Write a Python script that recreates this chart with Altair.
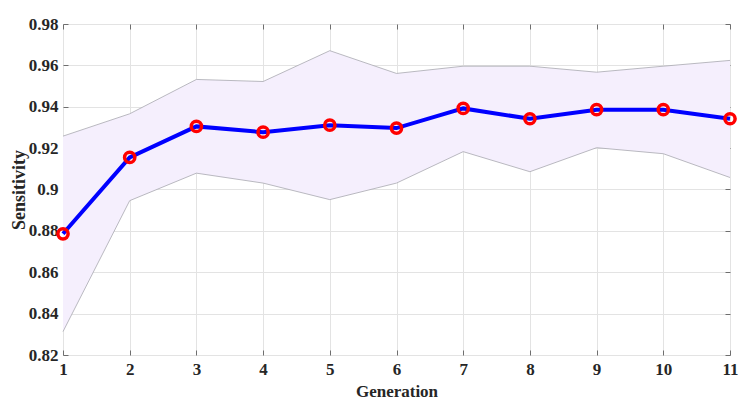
import altair as alt
import pandas as pd

generation = [1, 2, 3, 4, 5, 6, 7, 8, 9, 10, 11]
mean_sens = [0.8786, 0.9155, 0.9305, 0.9277, 0.9311, 0.9297, 0.9392, 0.9342, 0.9386, 0.9386, 0.9342]
upper_sens = [0.9258, 0.9366, 0.9532, 0.9522, 0.9671, 0.9561, 0.9596, 0.9596, 0.9567, 0.9596, 0.9624]
lower_sens = [0.8313, 0.8946, 0.9079, 0.9031, 0.8951, 0.9031, 0.9183, 0.9086, 0.9202, 0.9173, 0.9058]
x_ticks = [1, 2, 3, 4, 5, 6, 7, 8, 9, 10, 11]
y_ticks = [0.82, 0.84, 0.86, 0.88, 0.90, 0.92, 0.94, 0.96, 0.98]

df = pd.DataFrame({"gen": generation, "mean": mean_sens, "upper": upper_sens, "lower": lower_sens})

W, H = 667, 331
FONT = "Liberation Serif"
TXT = "#262626"

xs = alt.Scale(domain=[1, 11], nice=False, zero=False)
ys = alt.Scale(domain=[0.82, 0.98], nice=False, zero=False)

main_x = alt.Axis(values=x_ticks, title="Generation", grid=True, gridColor="#e3e3e3",
                  ticks=False, domain=False, labelFont=FONT, labelFontSize=17,
                  labelFontWeight="bold", labelColor=TXT, labelPadding=6,
                  titleFont=FONT, titleFontSize=17, titleFontWeight="bold",
                  titleColor=TXT, titlePadding=6, labelFlush=False)
main_y = alt.Axis(values=y_ticks, title="Sensitivity", grid=True, gridColor="#e3e3e3",
                  ticks=False, domain=False, labelFont=FONT, labelFontSize=17,
                  labelFontWeight="bold", labelColor=TXT, labelPadding=5,
                  titleFont=FONT, titleFontSize=18, titleFontWeight="bold",
                  titleColor=TXT, titlePadding=0, labelFlush=False,
                  labelExpr="format(datum.value, '.2~f')")

def tick_axis(vals, orient, offset):
    return alt.Axis(values=vals, orient=orient, offset=offset, labels=False, title=None,
                    grid=False, domain=False, ticks=True, tickSize=5, tickColor="#6e6e6e",
                    tickWidth=1)

band = alt.Chart(df).mark_area(color="#f5effd", opacity=1).encode(
    x=alt.X("gen:Q", scale=xs, axis=main_x),
    y=alt.Y("lower:Q", scale=ys, axis=main_y),
    y2="upper:Q",
)

upper_line = alt.Chart(df).mark_line(color="#a8a8b0", strokeWidth=0.8).encode(
    x=alt.X("gen:Q", scale=xs, axis=tick_axis(x_ticks, "bottom", -H)),
    y=alt.Y("upper:Q", scale=ys, axis=tick_axis(y_ticks, "left", -W)),
)

lower_line = alt.Chart(df).mark_line(color="#a8a8b0", strokeWidth=0.8).encode(
    x=alt.X("gen:Q", scale=xs, axis=tick_axis(x_ticks, "top", -H)),
    y=alt.Y("lower:Q", scale=ys, axis=tick_axis(y_ticks, "right", -W)),
)

mean_line = alt.Chart(df).mark_line(color="#0000ff", strokeWidth=4).encode(
    x=alt.X("gen:Q", scale=xs, axis=None),
    y=alt.Y("mean:Q", scale=ys, axis=None),
)

points = alt.Chart(df).mark_point(shape="circle", filled=False, color="#ff0000",
                                  strokeWidth=3.5, size=105, opacity=1).encode(
    x=alt.X("gen:Q", scale=xs, axis=None),
    y=alt.Y("mean:Q", scale=ys, axis=None),
)

chart = alt.layer(band, upper_line, lower_line, mean_line, points).resolve_axis(
    x="independent", y="independent"
).properties(
    width=W, height=H,
    autosize=alt.AutoSizeParams(type="none"),
    padding={"left": 55, "top": 16, "right": 9, "bottom": 50},
).configure_view(stroke="#8a8a8a", strokeWidth=1).configure(background="white")

chart.save("out.html", embed_options={"renderer": "svg", "actions": False})
